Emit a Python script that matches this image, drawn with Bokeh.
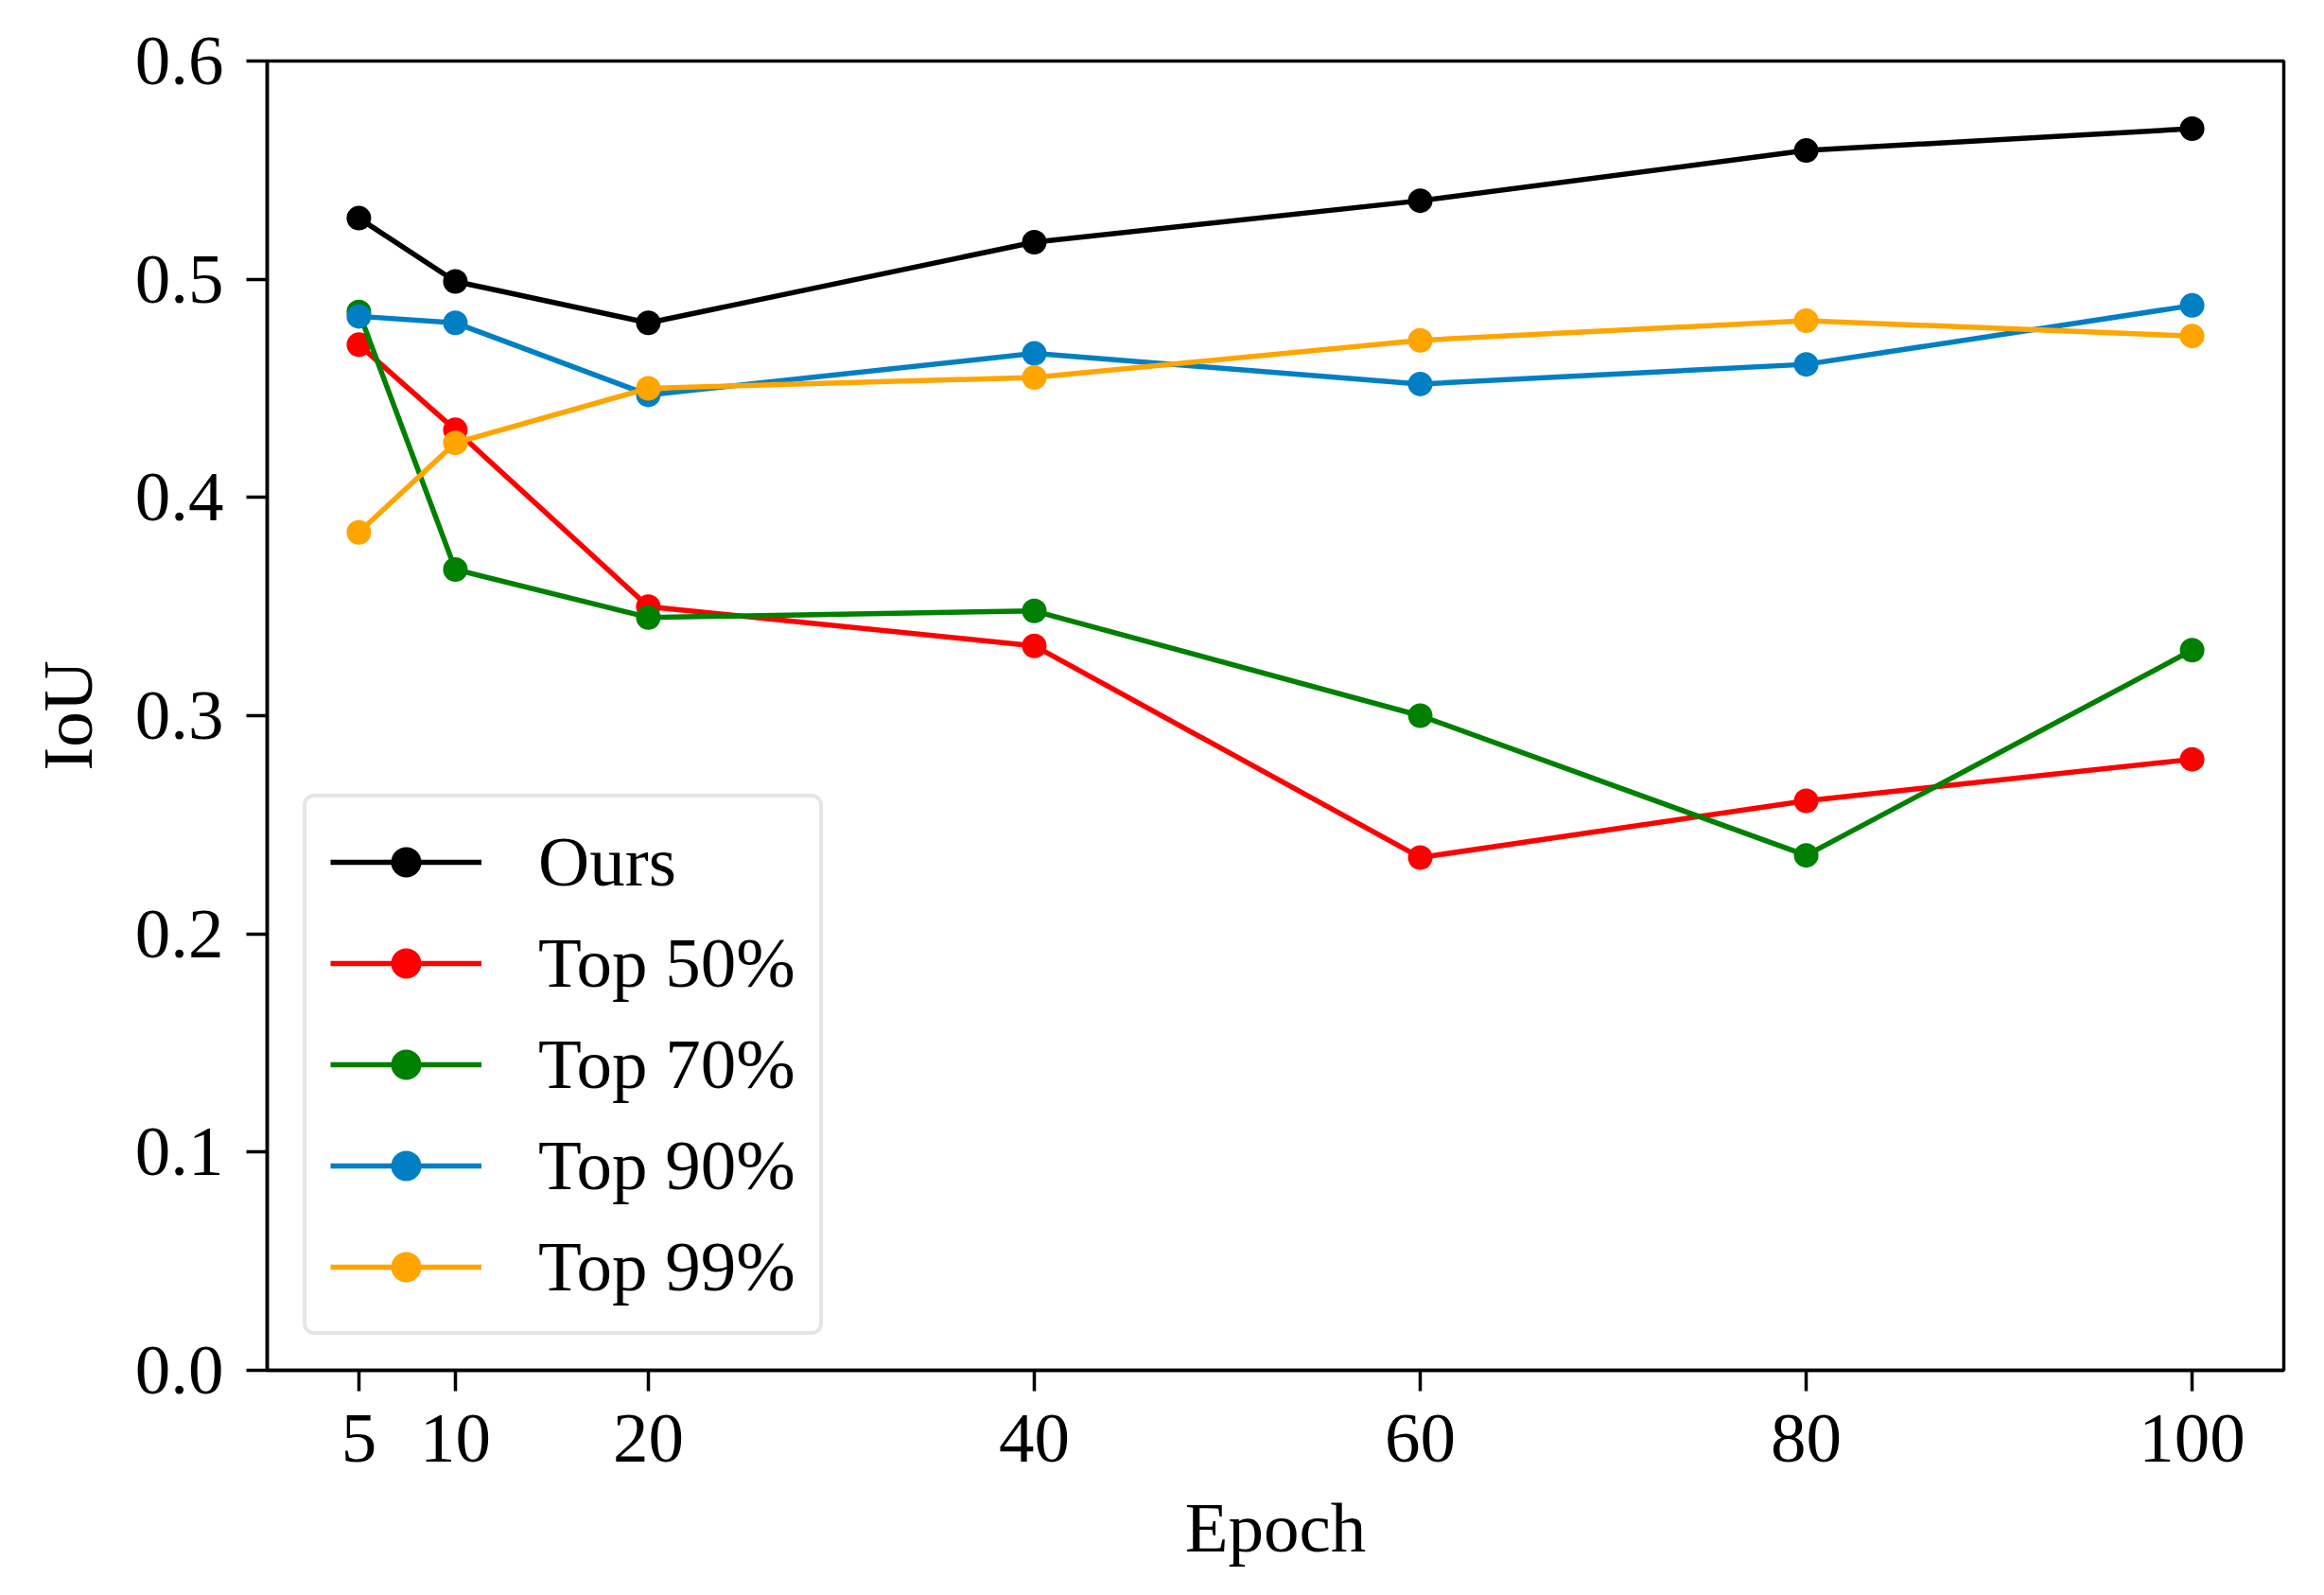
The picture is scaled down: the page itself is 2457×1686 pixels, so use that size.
from bokeh.plotting import figure
from bokeh.models import Range1d, FixedTicker, PrintfTickFormatter, Legend, LegendItem
from bokeh.embed import file_html
from bokeh.resources import INLINE

# ---- data ----
epochs = [5, 10, 20, 40, 60, 80, 100]
ours = [0.528, 0.499, 0.480, 0.517, 0.536, 0.559, 0.569]
top50 = [0.470, 0.431, 0.350, 0.332, 0.235, 0.261, 0.280]
top70 = [0.485, 0.367, 0.345, 0.348, 0.300, 0.236, 0.330]
top90 = [0.483, 0.480, 0.447, 0.466, 0.452, 0.461, 0.488]
top99 = [0.384, 0.425, 0.450, 0.455, 0.472, 0.481, 0.474]

series_names = ["Ours", "Top 50%", "Top 70%", "Top 90%", "Top 99%"]
series_values = [ours, top50, top70, top90, top99]
series_colors = ["#000000", "#ff0000", "#008000", "#007fc4", "#ffa500"]

x_ticks = [5, 10, 20, 40, 60, 80, 100]
y_ticks = [0.0, 0.1, 0.2, 0.3, 0.4, 0.5, 0.6]

FONT = "Liberation Serif"
FS = "75px"

p = figure(width=2441, height=1670,
           x_range=Range1d(0.25, 104.75), y_range=Range1d(0.0, 0.6),
           output_backend="svg", toolbar_location=None,
           min_border_left=282, min_border_right=27,
           min_border_top=64, min_border_bottom=222)

p.background_fill_color = "white"
p.border_fill_color = "white"
p.grid.visible = False
p.outline_line_color = "black"
p.outline_line_width = 3.5

for ax in (p.xaxis[0], p.yaxis[0]):
    ax.axis_line_width = 3.5
    ax.axis_line_color = "black"
    ax.major_tick_line_width = 3.5
    ax.major_tick_line_color = "black"
    ax.major_tick_out = 22
    ax.major_tick_in = 0
    ax.minor_tick_line_color = None
    ax.major_label_text_font = FONT
    ax.major_label_text_font_size = FS
    ax.major_label_text_color = "black"
    ax.axis_label_text_font = FONT
    ax.axis_label_text_font_size = FS
    ax.axis_label_text_font_style = "normal"
    ax.axis_label_text_color = "black"

p.xaxis.ticker = FixedTicker(ticks=x_ticks)
p.yaxis.ticker = FixedTicker(ticks=y_ticks)
p.yaxis.formatter = PrintfTickFormatter(format="%.1f")
p.xaxis.axis_label = "Epoch"
p.yaxis.axis_label = "IoU"
p.xaxis.major_label_standoff = 25
p.xaxis.axis_label_standoff = 25
p.yaxis.major_label_standoff = 24
p.yaxis.axis_label_standoff = 27

items = []
for name, vals, col in zip(series_names, series_values, series_colors):
    ln = p.line(epochs, vals, line_color=col, line_width=5.5)
    sc = p.scatter(epochs, vals, marker="circle", size=26,
                   fill_color=col, line_color=col, line_width=0)
    items.append(LegendItem(label=name, renderers=[ln, sc]))

legend = Legend(items=items, location=(38, 37))
legend.label_text_font = FONT
legend.label_text_font_size = FS
legend.label_text_color = "black"
legend.glyph_width = 160
legend.glyph_height = 80
legend.label_height = 80
legend.label_standoff = 60
legend.spacing = 21
legend.padding = 25
legend.margin = 0
legend.border_line_color = "#cccccc"
legend.border_line_width = 4
legend.background_fill_color = "white"
legend.background_fill_alpha = 0.8
if "border_radius" in Legend.properties():
    legend.border_radius = 12
p.add_layout(legend, "center")

open("out.html", "w").write(file_html(p, INLINE))
